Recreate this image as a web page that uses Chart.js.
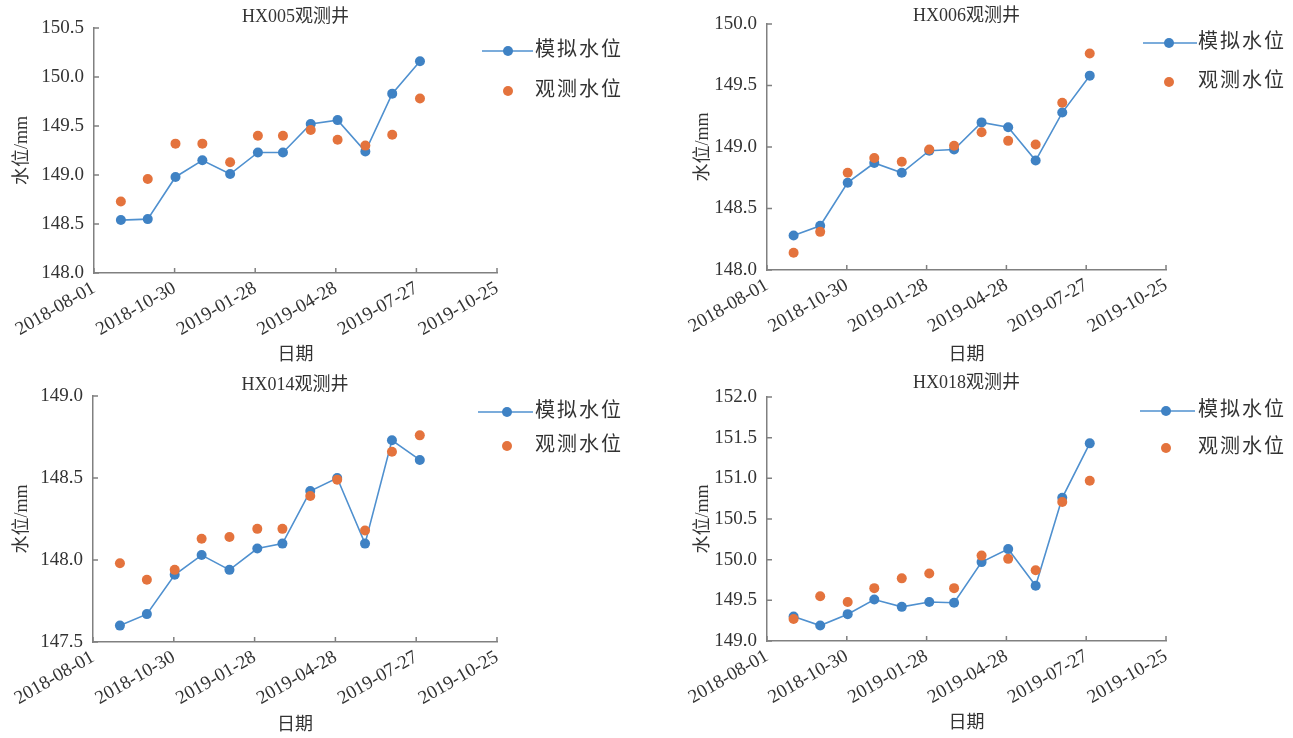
<!DOCTYPE html>
<html>
<head>
<meta charset="utf-8">
<script src="https://cdn.jsdelivr.net/npm/chart.js@4.4.1/dist/chart.umd.min.js"></script>
<style>
html,body{margin:0;padding:0;background:#fff;width:1293px;height:738px;overflow:hidden}
canvas{position:absolute;display:block}
</style>
</head>
<body>
<canvas id="c1" width="640" height="370" style="left:0;top:0"></canvas>
<canvas id="c2" width="653" height="370" style="left:640px;top:0"></canvas>
<canvas id="c3" width="640" height="368" style="left:0;top:370px"></canvas>
<canvas id="c4" width="653" height="368" style="left:640px;top:370px"></canvas>
<script>
// ---------- data ----------
const dates = ['2018-08-31','2018-09-30','2018-10-31','2018-11-30','2018-12-31','2019-01-31',
               '2019-02-28','2019-03-31','2019-04-30','2019-05-31','2019-06-30','2019-07-31'];
const xTickLabels = ['2018-08-01','2018-10-30','2019-01-28','2019-04-28','2019-07-27','2019-10-25'];
const seriesNames = ['模拟水位','观测水位'];
const titles = ['HX005观测井','HX006观测井','HX014观测井','HX018观测井'];
const xAxisTitle = '日期';
const yAxisTitle = '水位/mm';

const hx005Sim = [148.54,148.55,148.98,149.15,149.01,149.23,149.23,149.52,149.56,149.24,149.83,150.16];
const hx005Obs = [148.73,148.96,149.32,149.32,149.13,149.40,149.40,149.46,149.36,149.30,149.41,149.78];
const hx006Sim = [148.28,148.36,148.71,148.87,148.79,148.97,148.98,149.20,149.16,148.89,149.28,149.58];
const hx006Obs = [148.14,148.31,148.79,148.91,148.88,148.98,149.01,149.12,149.05,149.02,149.36,149.76];
const hx014Sim = [147.60,147.67,147.91,148.03,147.94,148.07,148.10,148.42,148.50,148.10,148.73,148.61];
const hx014Obs = [147.98,147.88,147.94,148.13,148.14,148.19,148.19,148.39,148.49,148.18,148.66,148.76];
const hx018Sim = [149.30,149.19,149.33,149.51,149.42,149.48,149.47,149.97,150.13,149.68,150.76,151.43];
const hx018Obs = [149.27,149.55,149.48,149.65,149.77,149.83,149.65,150.05,150.01,149.87,150.71,150.97];

const yRange005 = [148.0, 150.5];
const yRange006 = [148.0, 150.0];
const yRange014 = [147.5, 149.0];
const yRange018 = [149.0, 152.0];
const yStep = 0.5;

// ---------- styling / layout ----------
const BLUE = '#3f82c4';
const BLUE_LINE = '#4f90cf';
const ORANGE = '#e4733d';
const TEXT = '#333333';
const AXIS = '#808080';
const SERIF = '"Liberation Serif", "Noto Sans CJK SC", serif';

const origin = Date.parse(xTickLabels[0]);
const dayOf = s => (Date.parse(s) - origin) / 86400000;

const panels = [
  {id:'c1', title:titles[0], sim:hx005Sim, obs:hx005Obs, yr:yRange005,
   W:640, H:370, left:94, right:497, top:28, bottom:273, titleY:17, yTitlePad:11, xTitlePad:4,
   leg:{x1:482, x2:533, xm:508, xt:535, y1:51, y2:91}},
  {id:'c2', title:titles[1], sim:hx006Sim, obs:hx006Obs, yr:yRange006,
   W:653, H:370, left:127, right:526, top:24, bottom:270, titleY:16, yTitlePad:52, xTitlePad:4,
   leg:{x1:503, x2:557, xm:529, xt:558, y1:43, y2:82}},
  {id:'c3', title:titles[2], sim:hx014Sim, obs:hx014Obs, yr:yRange014,
   W:640, H:368, left:93, right:497, top:26, bottom:272, titleY:15, yTitlePad:11, xTitlePad:2,
   leg:{x1:478, x2:533, xm:507, xt:535, y1:42, y2:76}},
  {id:'c4', title:titles[3], sim:hx018Sim, obs:hx018Obs, yr:yRange018,
   W:653, H:368, left:127, right:526, top:27, bottom:271, titleY:13, yTitlePad:52, xTitlePad:4,
   leg:{x1:500, x2:555, xm:526, xt:558, y1:41, y2:78}}
];

const decor = {
  id: 'decor',
  afterDraw(chart) {
    const p = chart.options.plugins.decor;
    const ctx = chart.ctx, ca = chart.chartArea;
    const xs = chart.scales.x, ys = chart.scales.y;
    ctx.save();
    // inward tick marks
    ctx.strokeStyle = AXIS; ctx.lineWidth = 1.5;
    ctx.beginPath();
    xs.ticks.forEach((t, i) => { const px = xs.getPixelForTick(i); ctx.moveTo(px, ca.bottom); ctx.lineTo(px, ca.bottom - 5); });
    ys.ticks.forEach((t, i) => { const py = ys.getPixelForTick(i); ctx.moveTo(ca.left, py); ctx.lineTo(ca.left + 5, py); });
    ctx.stroke();
    // title
    ctx.fillStyle = TEXT;
    ctx.font = '18px ' + SERIF;
    ctx.textAlign = 'center'; ctx.textBaseline = 'middle';
    ctx.fillText(p.title, (ca.left + ca.right) / 2, p.titleY);
    // legend
    const L = p.leg;
    ctx.strokeStyle = BLUE_LINE; ctx.lineWidth = 1.5;
    ctx.beginPath(); ctx.moveTo(L.x1, L.y1); ctx.lineTo(L.x2, L.y1); ctx.stroke();
    ctx.fillStyle = BLUE; ctx.beginPath(); ctx.arc(L.xm, L.y1, 5, 0, Math.PI * 2); ctx.fill();
    ctx.fillStyle = ORANGE; ctx.beginPath(); ctx.arc(L.xm, L.y2, 5, 0, Math.PI * 2); ctx.fill();
    ctx.fillStyle = TEXT;
    ctx.font = '20px ' + SERIF;
    ctx.textAlign = 'left';
    try { ctx.letterSpacing = '2px'; } catch (e) {}
    ctx.fillText(seriesNames[0], L.xt, L.y1);
    ctx.fillText(seriesNames[1], L.xt, L.y2);
    ctx.restore();
  }
};

panels.forEach(p => {
  const simPts = dates.map((d, i) => ({x: dayOf(d), y: p.sim[i]}));
  const obsPts = dates.map((d, i) => ({x: dayOf(d), y: p.obs[i]}));
  new Chart(document.getElementById(p.id), {
    type: 'line',
    data: {
      datasets: [
        {label: seriesNames[1], data: obsPts, showLine: false, pointRadius: 5, pointHoverRadius: 5,
         pointBackgroundColor: ORANGE, pointBorderColor: ORANGE, pointBorderWidth: 0, backgroundColor: ORANGE, borderColor: ORANGE, order: 1},
        {label: seriesNames[0], data: simPts, borderColor: BLUE_LINE, borderWidth: 1.6, tension: 0,
         pointRadius: 5, pointHoverRadius: 5, pointBackgroundColor: BLUE, pointBorderColor: BLUE, pointBorderWidth: 0,
         backgroundColor: BLUE, fill: false, order: 2}
      ]
    },
    options: {
      responsive: false,
      animation: false,
      events: [],
      layout: {padding: {left: 0, top: p.top, right: p.W - p.right, bottom: 0}},
      plugins: {
        legend: {display: false},
        title: {display: false},
        tooltip: {enabled: false},
        decor: {title: p.title, titleY: p.titleY, leg: p.leg}
      },
      scales: {
        x: {
          type: 'linear',
          min: dayOf(xTickLabels[0]),
          max: dayOf(xTickLabels[xTickLabels.length - 1]),
          afterBuildTicks: s => { s.ticks = xTickLabels.map(l => ({value: dayOf(l)})); },
          afterFit: s => { s.height = p.H - p.bottom; },
          grid: {display: true, drawOnChartArea: false, drawTicks: false},
          border: {display: true, color: AXIS, width: 1.5},
          ticks: {
            autoSkip: false, maxRotation: 30, minRotation: 30, padding: 4,
            color: TEXT, font: {family: SERIF, size: 19},
            callback: v => { const i = xTickLabels.findIndex(l => Math.abs(dayOf(l) - v) < 0.5); return i >= 0 ? xTickLabels[i] : ''; }
          },
          title: {display: true, text: xAxisTitle, color: TEXT, font: {family: SERIF, size: 18},
                  padding: {top: 0, bottom: p.xTitlePad}}
        },
        y: {
          min: p.yr[0], max: p.yr[1],
          afterFit: s => { s.width = p.left; },
          grid: {display: true, drawOnChartArea: false, drawTicks: false},
          border: {display: true, color: AXIS, width: 1.5},
          ticks: {stepSize: yStep, padding: 10, color: TEXT, font: {family: SERIF, size: 19},
                  callback: v => Number(v).toFixed(1)},
          title: {display: true, text: yAxisTitle, color: TEXT, font: {family: SERIF, size: 18},
                  padding: {top: p.yTitlePad, bottom: 0}}
        }
      }
    },
    plugins: [decor]
  });
});
</script>
</body>
</html>
